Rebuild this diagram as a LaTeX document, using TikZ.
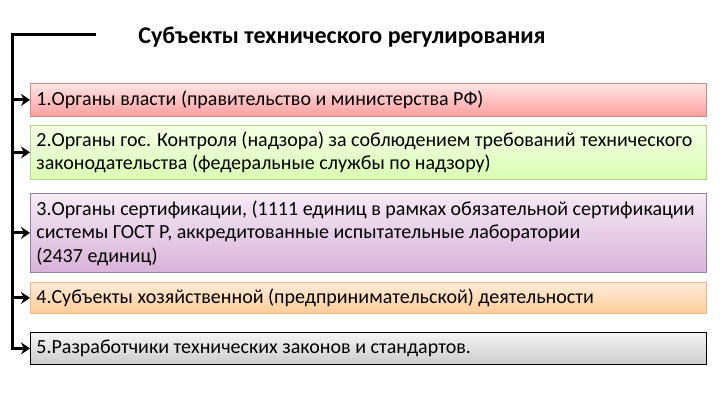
\documentclass[tikz,border=0pt]{standalone}
\usepackage{fontspec}
\setmainfont{Carlito}
\usetikzlibrary{arrows.meta}

\definecolor{redline}{HTML}{C98A88}
\definecolor{greenline}{HTML}{B9D38A}
\definecolor{violetline}{HTML}{8F84A6}
\definecolor{orangeline}{HTML}{F0B886}

\tikzset{
  box/.style={draw, line width=0.8pt, anchor=north west, minimum width=676pt,
    text width=664pt, inner xsep=6pt, align=flush left,
    font=\fontsize{20}{23.5}\selectfont},
  feed/.style={-{Stealth[length=9pt,width=12pt]}, line width=3pt},
}

\begin{document}
\begin{tikzpicture}[x=1pt,y=-1pt]
  \useasboundingbox[fill=white] (0,0) rectangle (720,405);

  % title
  \node[font=\fontsize{24}{28}\bfseries] (title) at (342,37) {Субъекты технического регулирования};

  % boxes
  \node[box, draw=redline, top color=red!10, bottom color=red!38, minimum height=33pt] (b1) at (30,83)
    {1.Органы власти (правительство и министерства РФ)};
  \node[box, draw=greenline, top color=green!40!yellow!10, bottom color=green!50!yellow!30, minimum height=54pt] (b2) at (30,125)
    {2.Органы гос. Контроля (надзора) за соблюдением требований технического\\законодательства (федеральные службы по надзору)};
  \node[box, draw=violetline, top color=violet!8, bottom color=violet!30, minimum height=79pt] (b3) at (30,193)
    {3.Органы сертификации, (1111 единиц в рамках обязательной сертификации\\системы ГОСТ Р, аккредитованные испытательные лаборатории\\(2437 единиц)};
  \node[box, draw=orangeline, top color=orange!15, bottom color=orange!40, minimum height=31pt] (b4) at (30,282)
    {4.Субъекты хозяйственной (предпринимательской) деятельности};
  \node[box, draw=black, top color=gray!8, bottom color=gray!40, minimum height=32pt] (b5) at (30,332)
    {5.Разработчики технических законов и стандартов.};

  % trunk and arrows
  \coordinate (start) at (96,34);
  \coordinate (trunk) at (12,34);
  \draw[feed] (start) -- (trunk) |- (b5.west);
  \draw[feed] (trunk |- b1.west) -- (b1.west);
  \draw[feed] (trunk |- b2.west) -- (b2.west);
  \draw[feed] (trunk |- b3.west) -- (b3.west);
  \draw[feed] (trunk |- b4.west) -- (b4.west);
\end{tikzpicture}
\end{document}
